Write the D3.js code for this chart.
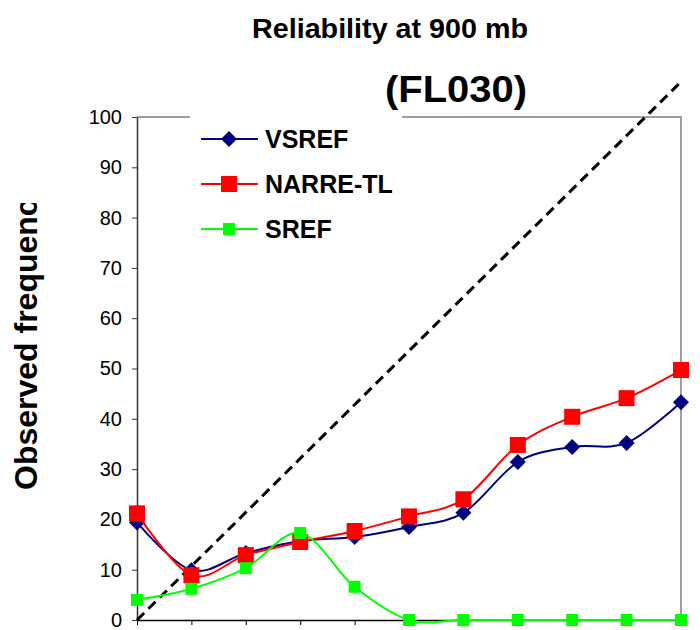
<!DOCTYPE html>
<html>
<head>
<meta charset="utf-8">
<script src="https://cdn.jsdelivr.net/npm/d3@7"></script>
<style>
	body { margin: 0; background: #fff; }
	svg { display: block; font-family: "Liberation Sans", Arial, sans-serif; }
</style>
</head>
<body>
<svg id="chart"></svg>
<script>
// forecast probability bins (%)
const probBins = [0, 10, 20, 30, 40, 50, 60, 70, 80, 90, 100];
const yTicks = [0, 10, 20, 30, 40, 50, 60, 70, 80, 90, 100];

// observed frequency (%)
const vsref = [19.4, 9.9, 13.3, 15.7, 16.5, 18.5, 21.3, 31.4, 34.4, 35.2, 43.3];
const narreTL = [21.2, 8.9, 12.9, 15.5, 17.7, 20.6, 24.0, 34.8, 40.4, 44.1, 49.7];
const sref = [4.0, 6.2, 10.3, 17.3, 6.6, 0, 0, 0, 0, 0, 0];

// dashed reference line as it appears in the picture
const diagX = [0, 100];
const diagY = [0, 107];

const seriesNames = ["VSREF", "NARRE-TL", "SREF"];

const width = 700;
const height = 630;

const svg = d3.select("#chart")
              .attr("width", width)
              .attr("height", height);

const margin = { left: 137, right: 19, top: 117, bottom: 10 };

const xScale = d3.scaleLinear([0, 100], [margin.left, width - margin.right]);
const yScale = d3.scaleLinear([0, 100], [height - margin.bottom, margin.top]);

const series = [
	{ name: seriesNames[0], values: vsref, color: "#000080", shape: "diamond", size: 8 },
	{ name: seriesNames[1], values: narreTL, color: "#ff0000", shape: "square", size: 8 },
	{ name: seriesNames[2], values: sref, color: "#00ff00", shape: "square", size: 6 },
];

// plot frame (top + right)
svg.append("path")
   .attr("d", `M${xScale(0)},${yScale(100)}H${xScale(100)}V${yScale(0)}`)
   .attr("fill", "none")
   .attr("stroke", "#808080")
   .attr("stroke-width", 1.5);

// y axis
svg.append("g")
   .attr("transform", `translate(${xScale(0)}, 0)`)
   .call(d3.axisLeft(yScale).tickValues(yTicks).tickSize(5).tickPadding(10).tickSizeOuter(0))
   .call(g => g.select(".domain").attr("stroke", "#333").attr("stroke-width", 1.5))
   .call(g => g.selectAll(".tick line").attr("stroke", "#333"))
   .call(g => g.selectAll(".tick text")
               .attr("font-size", 20)
               .attr("font-family", "Liberation Sans, Arial, sans-serif")
               .attr("fill", "#000"));

// x axis (labels fall outside the picture)
svg.append("g")
   .attr("transform", `translate(0, ${yScale(0)})`)
   .call(d3.axisBottom(xScale).tickValues(probBins).tickSize(5).tickSizeOuter(0).tickFormat(""))
   .call(g => g.select(".domain").attr("stroke", "#000").attr("stroke-width", 1.5))
   .call(g => g.selectAll(".tick line").attr("stroke", "#000"));

// perfect reliability line
svg.append("line")
   .attr("x1", xScale(diagX[0]))
   .attr("y1", yScale(diagY[0]))
   .attr("x2", xScale(diagX[1]))
   .attr("y2", yScale(diagY[1]))
   .attr("stroke", "#000")
   .attr("stroke-width", 3)
   .attr("stroke-dasharray", "10,6");

const line = d3.line()
               .x((d, i) => xScale(probBins[i]))
               .y(d => yScale(d))
               .curve(d3.curveCardinal.tension(0));

function marker(g, s) {
	if(s.shape === "diamond") {
		const r = s.size;
		g.append("path")
		 .attr("d", `M0,${-r}L${r},0L0,${r}L${-r},0Z`)
		 .attr("fill", s.color);
	}
	else {
		g.append("rect")
		 .attr("x", -s.size)
		 .attr("y", -s.size)
		 .attr("width", s.size * 2)
		 .attr("height", s.size * 2)
		 .attr("fill", s.color);
	}
}

for (const s of series) {
	const g = svg.append("g");
	g.append("path")
	 .attr("d", line(s.values))
	 .attr("fill", "none")
	 .attr("stroke", s.color)
	 .attr("stroke-width", 2);

	g.selectAll("g.pt")
	 .data(s.values)
	 .join("g")
	 .attr("class", "pt")
	 .attr("transform", (d, i) => `translate(${xScale(probBins[i])}, ${yScale(d)})`)
	 .each(function() { marker(d3.select(this), s); });
}

// legend
const legend = svg.append("g");
legend.append("rect")
      .attr("x", 190)
      .attr("y", 108)
      .attr("width", 212)
      .attr("height", 140)
      .attr("fill", "#fff");

series.forEach((s, i) => {
	const item = legend.append("g").attr("transform", `translate(201, ${139 + i * 45})`);
	item.append("line")
	    .attr("x1", 0).attr("x2", 57)
	    .attr("stroke", s.color)
	    .attr("stroke-width", 2);
	marker(item.append("g").attr("transform", "translate(28, 0)"), s);
	item.append("text")
	    .attr("x", 64)
	    .attr("y", 9)
	    .attr("font-size", 25)
	    .attr("font-weight", "bold")
	    .text(s.name);
});

// titles
svg.append("text")
   .attr("x", 252)
   .attr("y", 38)
   .attr("font-size", 27)
   .attr("font-weight", "bold")
   .attr("textLength", 276)
   .attr("lengthAdjust", "spacingAndGlyphs")
   .text("Reliability at 900 mb");

svg.append("text")
   .attr("x", 385)
   .attr("y", 102)
   .attr("font-size", 36)
   .attr("font-weight", "bold")
   .attr("textLength", 142)
   .attr("lengthAdjust", "spacingAndGlyphs")
   .text("(FL030)");

// y label, cut off at the top like the original
svg.append("clipPath")
   .attr("id", "ylabel-clip")
   .append("rect")
   .attr("x", 0).attr("y", 203)
   .attr("width", 80).attr("height", 400);

svg.append("g")
   .attr("clip-path", "url(#ylabel-clip)")
   .append("text")
   .attr("transform", "translate(37, 490) rotate(-90)")
   .attr("font-size", 32)
   .attr("font-weight", "bold")
   .text("Observed frequency");
</script>
</body>
</html>
